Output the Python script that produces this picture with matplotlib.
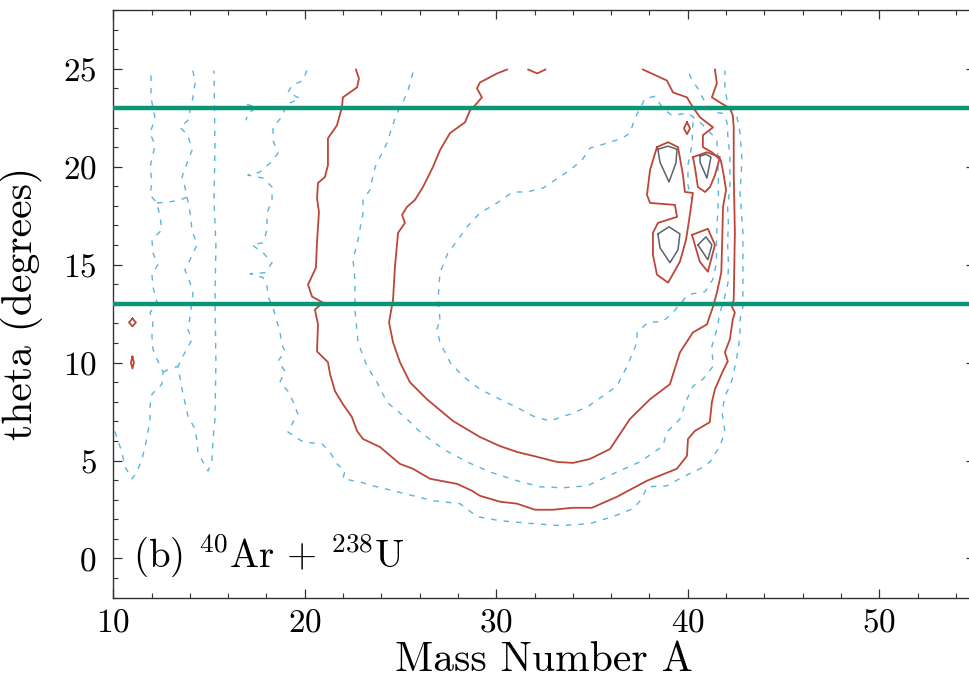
import matplotlib
matplotlib.use("Agg")
import matplotlib.pyplot as plt
from matplotlib.ticker import MultipleLocator

plt.rcParams['font.family'] = 'serif'
plt.rcParams['font.serif'] = ['cmr10', 'DejaVu Serif']
plt.rcParams['mathtext.fontset'] = 'cm'
plt.rcParams['axes.formatter.use_mathtext'] = True

# contour lines, (mass number A, theta in degrees)
red_outer = [(22.67, 24.96), (22.83, 24.5), (22.73, 24.05), (21.99, 23.54), (21.94, 23.03),
             (21.68, 22.11), (21.21, 21.45), (21.21, 20.08), (21.05, 19.47), (20.69, 19.17),
             (20.64, 18.4), (20.74, 17.69), (20.64, 16.17), (20.58, 14.84), (20.17, 13.98),
             (20.38, 13.37), (20.95, 13.06), (20.53, 12.71), (20.69, 11.95), (20.64, 10.57),
             (20.95, 10.27), (21.21, 10.02), (21.32, 9.41), (21.58, 8.54), (21.99, 7.88),
             (22.46, 7.22), (22.73, 6.51), (23.04, 6.1), (23.93, 5.69), (24.97, 4.83),
             (25.65, 4.58), (26.54, 4.07), (27.95, 3.81), (28.73, 3.46), (29.15, 3.2),
             (30.19, 2.9), (31.08, 2.8), (32.02, 2.49), (32.96, 2.49), (34.0, 2.59),
             (35.0, 2.59), (36.3, 3.15), (37.87, 3.97), (39.43, 4.58), (39.96, 5.24),
             (40.01, 6.1), (40.37, 6.51), (41.15, 6.96), (41.26, 7.98), (41.42, 8.64),
             (41.83, 9.56), (42.09, 10.07), (41.94, 10.53), (42.2, 11.19), (42.35, 12.2),
             (42.46, 12.56), (42.3, 12.86), (42.4, 13.22), (42.46, 16.62), (42.4, 19.67),
             (42.4, 22.01), (42.35, 22.62), (42.2, 22.98), (41.68, 23.28), (41.26, 23.54),
             (41.52, 24.25), (41.42, 24.96)]
red_inner = [(30.56, 24.96), (30.04, 24.76), (29.15, 24.3), (28.99, 24.0), (29.25, 23.54),
             (28.89, 23.13), (28.63, 22.88), (28.37, 22.27), (27.58, 21.71), (27.06, 20.84),
             (26.69, 19.98), (26.17, 18.96), (25.75, 18.3), (25.34, 17.95), (25.08, 17.54),
             (25.23, 17.13), (24.87, 16.62), (24.71, 14.9), (24.61, 13.22), (24.4, 12.05),
             (24.61, 11.03), (24.97, 10.02), (25.49, 9.0), (26.38, 8.13), (27.74, 7.02),
             (29.15, 6.2), (30.19, 5.74), (31.08, 5.44), (32.13, 5.19), (33.17, 4.93),
             (34.01, 4.88), (34.89, 5.08), (35.94, 5.59), (36.98, 7.12), (38.03, 8.13),
             (39.07, 8.9), (39.59, 10.52), (40.27, 11.54), (41.0, 11.95), (41.32, 12.86),
             (41.52, 13.57), (41.75, 14.59), (41.8, 16.27), (41.84, 17.95), (42.0, 18.81),
             (41.85, 19.73), (41.72, 20.34), (41.26, 20.74), (40.79, 21.0), (40.79, 21.61),
             (41.32, 22.01), (40.64, 22.52), (40.27, 23.03), (39.96, 23.54), (39.23, 23.79),
             (38.91, 24.4), (37.66, 24.96)]
red_top_notch = [(31.67, 24.96), (32.14, 24.76), (32.56, 24.96)]
red_peaks_left = [(38.39, 21.0), (38.97, 21.25), (39.49, 21.0), (39.75, 19.57), (39.85, 18.71),
                  (40.27, 18.66), (40.11, 17.54), (39.91, 16.27), (39.59, 15.15), (38.97, 14.08),
                  (38.39, 14.49), (38.18, 15.51), (38.18, 16.62), (38.44, 17.13), (39.44, 17.44),
                  (39.33, 18.05), (38.03, 18.15), (37.87, 18.56), (38.03, 19.83), (38.39, 21.0)]
red_peak_ur = [(40.27, 20.49), (41.0, 20.74), (41.68, 20.49), (41.42, 19.57), (41.16, 18.96),
               (40.9, 18.71), (40.53, 18.96), (40.37, 19.98), (40.27, 20.49)]
red_peak_lr = [(40.22, 16.52), (41.05, 16.83), (41.42, 16.01), (41.05, 14.64), (40.63, 15.15),
               (40.22, 16.52)]
red_diamond = [(39.96, 22.27), (40.12, 21.96), (39.96, 21.66), (39.8, 21.96), (39.96, 22.27)]
red_small_a = [(11.0, 12.25), (11.18, 12.05), (11.0, 11.85), (10.82, 12.05), (11.0, 12.25)]
red_small_b = [(11.0, 10.3), (11.08, 10.0), (11.0, 9.7), (10.92, 10.0), (11.0, 10.3)]

gray_ul = [(38.44, 20.89), (38.97, 21.05), (39.44, 20.89), (39.38, 20.18), (39.02, 19.22),
           (38.55, 20.23), (38.44, 20.89)]
gray_ur = [(40.64, 20.54), (40.95, 20.64), (41.21, 20.49), (41.0, 19.42), (40.64, 20.23),
           (40.64, 20.54)]
gray_ll = [(38.44, 16.57), (39.02, 16.93), (39.59, 16.57), (39.49, 15.76), (39.07, 15.1),
           (38.55, 15.86), (38.44, 16.57)]
gray_lr = [(40.53, 16.01), (40.95, 16.42), (41.26, 16.01), (41.05, 15.25), (40.53, 16.01)]

blue_outer = [(20.11, 24.91), (19.91, 24.4), (19.33, 24.15), (19.12, 23.79), (19.75, 23.49),
              (18.97, 23.13), (18.86, 22.62), (18.34, 22.01), (18.34, 21.35), (18.6, 20.69),
              (18.18, 20.18), (17.66, 19.73), (17.03, 19.57), (17.82, 19.42), (18.29, 18.96),
              (18.29, 18.3), (18.03, 17.64), (18.03, 16.78), (17.82, 16.12), (17.24, 16.01),
              (17.82, 15.61), (18.29, 15.1), (17.92, 14.59), (17.14, 14.54), (17.82, 14.34),
              (18.03, 13.88), (18.08, 13.37), (18.34, 12.81), (18.7, 11.59), (18.81, 10.93),
              (18.97, 10.57), (18.6, 10.07), (18.97, 9.56), (18.7, 9.0), (19.12, 8.54),
              (19.38, 8.03), (19.64, 7.37), (19.33, 6.86), (19.12, 6.46), (19.91, 5.95),
              (20.9, 5.85), (21.32, 5.44), (21.68, 4.83), (22.1, 4.47), (21.99, 4.07),
              (22.88, 3.91), (23.56, 3.71), (24.61, 3.46), (26.69, 2.95), (28.1, 2.8),
              (28.99, 2.14), (30.19, 1.93), (31.92, 1.78), (33.33, 1.68), (34.89, 1.78),
              (36.09, 2.14), (37.14, 2.54), (37.61, 3.05), (37.87, 3.66), (38.91, 3.71),
              (39.75, 4.17), (40.64, 4.58), (41.16, 4.93), (41.68, 5.74), (41.94, 6.46),
              (41.79, 7.47), (41.94, 8.29), (42.2, 8.8), (42.36, 9.3), (42.57, 10.32),
              (42.73, 11.34), (42.73, 12.2), (42.88, 12.86), (42.88, 13.57), (42.88, 16.62),
              (42.73, 18.66), (42.83, 20.34), (42.73, 21.71), (42.57, 22.52), (42.36, 22.88),
              (42.05, 23.39), (41.94, 24.05), (41.94, 24.91)]
blue_outer_bit = [(16.98, 23.18), (17.5, 23.03), (17.03, 22.73), (16.93, 22.37)]
blue_mid = [(25.65, 24.81), (25.39, 23.89), (25.08, 23.18), (24.81, 22.73), (24.55, 22.01),
            (24.29, 21.2), (24.03, 20.69), (23.67, 19.98), (23.4, 18.81), (23.04, 18.3),
            (23.04, 17.64), (22.78, 16.27), (22.52, 15.25), (22.62, 14.23), (22.62, 12.71),
            (22.78, 11.03), (23.25, 9.81), (23.77, 9.0), (24.29, 7.98), (25.34, 7.12),
            (26.02, 6.46), (27.22, 5.59), (28.47, 4.93), (29.67, 4.42), (31.08, 3.97),
            (32.28, 3.66), (33.48, 3.61), (34.74, 3.71), (36.09, 4.32), (37.5, 4.93),
            (38.7, 5.74), (38.91, 6.46), (39.59, 7.12), (39.96, 8.13), (40.27, 8.8),
            (40.79, 9.15), (41.32, 9.81), (41.26, 10.83), (41.52, 11.69), (41.68, 12.56),
            (41.9, 13.22), (42.1, 14.08), (42.12, 15.1), (42.08, 16.12), (42.12, 17.13),
            (42.08, 17.95), (42.2, 18.91), (42.2, 20.59), (42.1, 21.45), (42.05, 22.27),
            (41.84, 22.73), (41.32, 22.77), (41.05, 23.13), (40.79, 23.49), (40.53, 24.0),
            (40.22, 24.4), (40.01, 24.91)]
blue_inner = [(27.06, 12.2), (26.96, 13.22), (27.06, 14.59), (27.48, 15.61), (28.0, 16.27),
              (28.47, 16.93), (29.15, 17.64), (30.04, 18.15), (30.87, 18.71), (31.6, 18.71),
              (32.44, 18.91), (33.85, 19.83), (34.48, 20.34), (34.89, 20.95), (35.78, 21.2),
              (36.56, 21.45), (36.98, 21.71), (37.24, 22.47), (37.77, 23.49), (38.29, 23.59),
              (38.7, 22.98), (39.17, 22.62), (40.01, 22.73), (40.64, 22.27), (41.16, 21.76),
              (41.52, 21.35), (41.55, 20.84), (41.6, 19.22), (41.6, 18.45), (41.55, 17.44),
              (41.5, 16.27), (41.5, 15.1), (41.3, 14.23), (40.9, 13.62), (40.01, 13.47),
              (39.23, 12.56), (38.7, 12.1), (37.92, 12.05), (37.35, 11.54), (37.35, 11.03),
              (36.83, 9.81), (36.3, 8.8), (35.57, 8.29), (34.74, 7.73), (33.85, 7.37),
              (32.8, 7.02), (31.92, 7.27), (31.24, 7.63), (30.19, 8.13), (29.15, 8.64),
              (28.26, 9.3), (27.58, 10.02), (27.06, 11.03), (26.9, 11.69), (27.06, 12.2)]
blue_between_peaks = [(40.27, 22.27), (40.22, 21.1), (40.01, 20.08), (40.01, 19.06), (40.22, 18.3)]
blue_left_a = [(11.97, 24.66), (11.97, 23.54), (12.18, 22.47), (11.92, 21.71), (12.18, 21.1),
               (11.92, 19.98), (12.02, 19.22), (11.92, 18.56), (12.28, 18.15), (12.44, 17.44),
               (12.54, 16.78), (12.02, 16.27), (12.07, 15.61), (12.33, 15.0), (12.02, 14.49),
               (12.07, 13.88), (12.3, 13.0), (11.92, 12.56), (12.07, 12.05), (12.02, 11.34),
               (12.07, 10.68), (12.33, 10.07), (12.6, 9.51), (12.54, 8.9), (12.02, 8.39),
               (11.92, 7.78), (11.92, 7.02), (11.81, 6.46), (11.66, 5.69), (11.5, 5.08),
               (11.24, 4.42), (10.98, 4.07), (10.61, 4.68), (10.45, 5.44), (10.09, 6.46),
               (10.0, 6.71)]
blue_left_b = [(14.16, 24.91), (14.27, 24.25), (14.16, 23.54), (13.9, 22.37), (13.48, 22.01),
               (13.9, 21.61), (14.11, 20.84), (13.85, 20.18), (13.59, 19.47), (13.74, 18.96),
               (13.85, 18.45), (14.01, 17.64), (14.11, 16.78), (14.37, 16.01), (14.01, 15.25),
               (13.74, 14.74), (14.01, 14.08), (14.16, 13.57), (14.01, 12.35), (13.9, 11.69),
               (14.11, 11.18), (13.74, 10.52), (13.38, 9.81), (13.59, 8.64), (13.74, 7.98),
               (13.9, 7.27), (14.27, 6.61), (14.37, 6.0), (14.42, 5.44), (14.68, 4.93),
               (14.95, 4.47), (15.15, 4.98), (15.21, 6.1), (15.31, 7.12), (15.36, 10.0),
               (15.31, 13.22), (15.36, 16.0), (15.26, 18.3), (15.31, 21.0), (15.26, 24.91)]
blue_left_link_a = [(12.28, 18.15), (12.9, 18.2), (13.5, 18.3), (13.85, 18.45)]
blue_left_link_b = [(12.6, 9.51), (13.0, 9.7), (13.38, 9.81)]

red_lines = [red_outer, red_inner, red_top_notch, red_peaks_left, red_peak_ur, red_peak_lr,
             red_diamond, red_small_a, red_small_b]
gray_lines = [gray_ul, gray_ur, gray_ll, gray_lr]
blue_lines = [blue_outer, blue_outer_bit, blue_mid, blue_inner, blue_between_peaks,
              blue_left_a, blue_left_b, blue_left_link_a, blue_left_link_b]

theta_cuts = [13, 23]

fig = plt.figure(figsize=(9.69, 6.84), dpi=100)
ax = fig.add_axes([0.1169, 0.1262, 0.8893, 0.8592])

for line in blue_lines:
    xs, ys = zip(*line)
    ax.plot(xs, ys, color='#5bb3de', lw=1.0, linestyle=(0, (4, 5)))
for line in red_lines:
    xs, ys = zip(*line)
    ax.plot(xs, ys, color='#bb4639', lw=1.3)
for line in gray_lines:
    xs, ys = zip(*line)
    ax.plot(xs, ys, color='#56646c', lw=1.1)
for t in theta_cuts:
    ax.axhline(t, color='#0a9676', lw=3.2, zorder=5)

ax.set_xlim(10, 55)
ax.set_ylim(-2, 28)
ax.xaxis.set_major_locator(MultipleLocator(10))
ax.xaxis.set_minor_locator(MultipleLocator(2))
ax.yaxis.set_major_locator(MultipleLocator(5))
ax.yaxis.set_minor_locator(MultipleLocator(1))
ax.tick_params(which='both', direction='in', top=True, right=True, color='#333333')
ax.tick_params(which='major', length=6.5, width=0.9, labelsize=24)
ax.tick_params(which='minor', length=3.5, width=0.8)
ax.tick_params(axis='x', which='major', pad=8)
ax.tick_params(axis='y', which='major', pad=12)
for s in ax.spines.values():
    s.set_color('#333333')
    s.set_linewidth(1.0)

ax.set_xlabel('Mass Number A', fontsize=30, labelpad=3)
ax.set_ylabel('theta (degrees)', fontsize=30)
ax.yaxis.set_label_coords(-0.082, 0.5)
ax.text(11.05, -0.41, r'(b) $^{40}$Ar + $^{238}$U', fontsize=28, va='baseline')

fig.savefig('out.png', dpi=100)
